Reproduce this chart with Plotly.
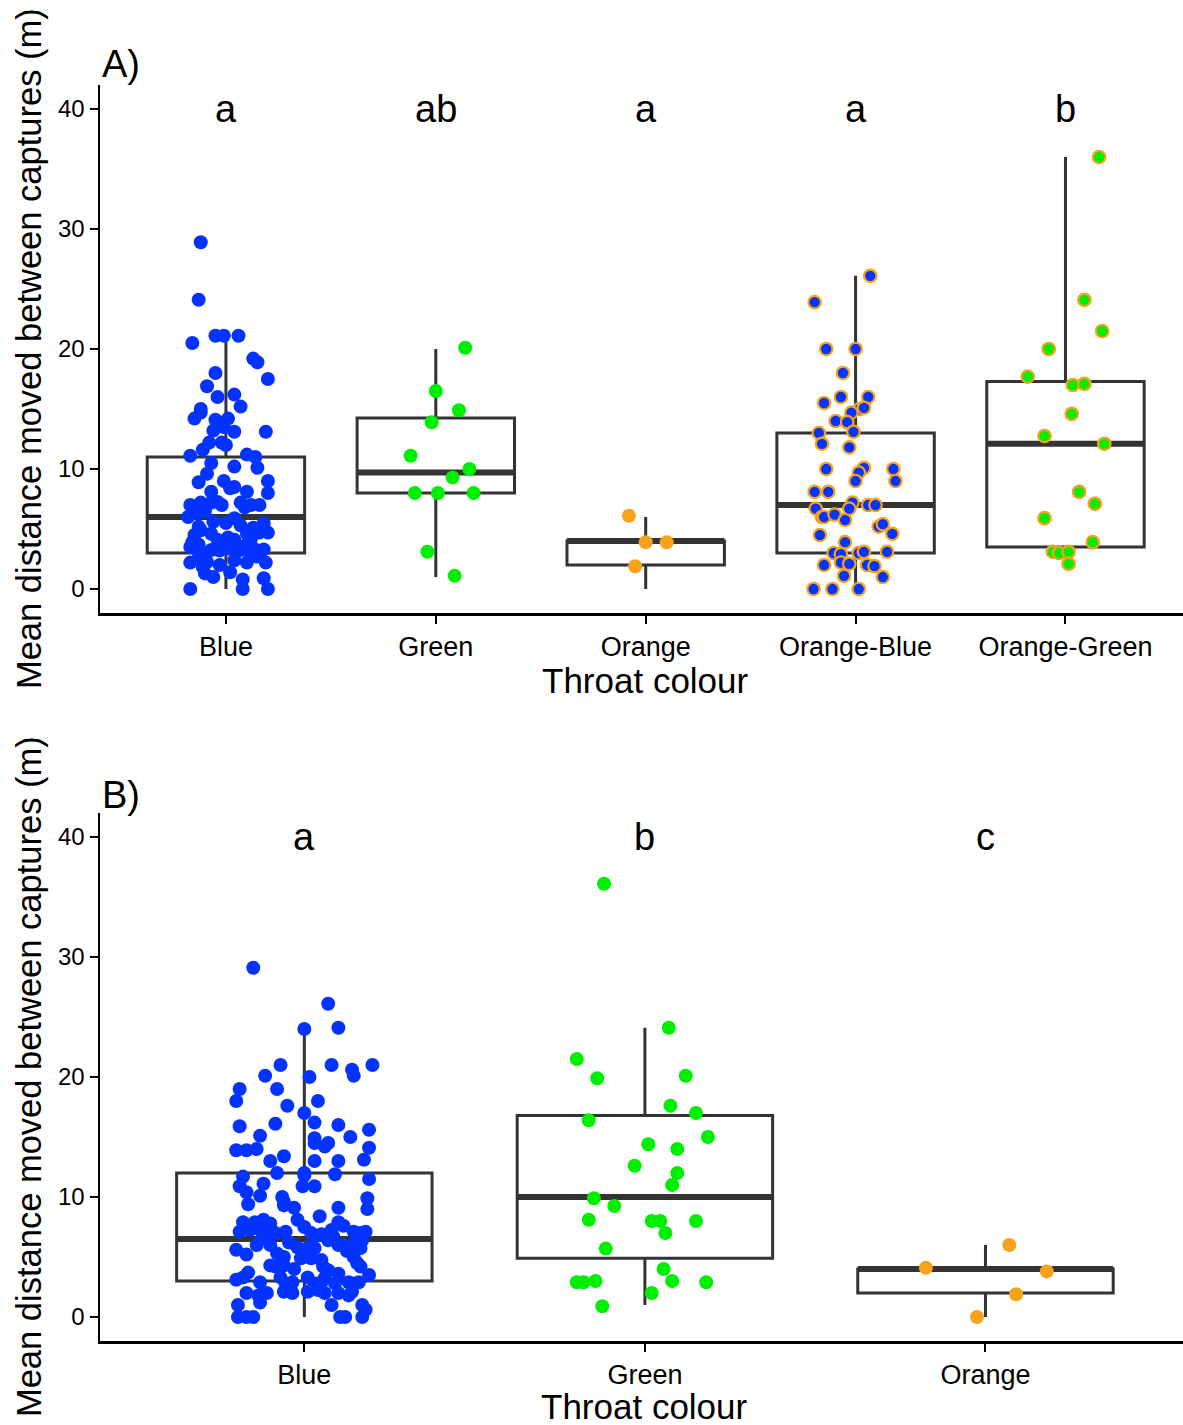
import plotly.graph_objects as go

# ---------------- data ----------------
CATS_A = ["Blue", "Green", "Orange", "Orange-Blue", "Orange-Green"]
CATS_B = ["Blue", "Green", "Orange"]
LETTERS_A = ["a", "ab", "a", "a", "b"]
LETTERS_B = ["a", "b", "c"]

# box statistics
A_Q1 = [3.0, 8.0, 2.0, 3.0, 3.5]
A_MED = [6.0, 9.7, 4.0, 7.0, 12.1]
A_Q3 = [11.0, 14.25, 4.0, 13.0, 17.3]
A_LO = [0.0, 1.0, 0.0, 0.0, 2.1]
A_HI = [21.1, 20.0, 6.0, 26.1, 36.0]

B_Q1 = [3.0, 4.9, 2.0]
B_MED = [6.5, 10.0, 4.0]
B_Q3 = [12.0, 16.8, 4.0]
B_LO = [0.0, 1.0, 0.0]
B_HI = [24.0, 24.1, 6.0]

# individual observations (y) and their jitter offsets (category units)
A_BLUE_Y = [28.9, 24.1, 20.5, 21.1, 21.1, 21.1, 19.2, 18.9, 17.5, 18.0,
            16.9, 16.0, 16.2, 15.2, 15.0, 14.2, 14.7, 14.1, 14.2, 13.2,
            13.5, 13.1, 13.1, 12.2, 12.2, 12.0, 11.6, 11.1, 11.2, 11.0,
            10.5, 10.2, 10.1, 8.9, 9.0, 9.0, 8.1, 8.4, 8.5, 8.1,
            8.0, 7.0, 7.2, 7.2, 7.0, 7.25, 7.2, 7.0, 7.0, 6.0,
            6.3, 5.6, 5.5, 5.3, 5.5, 4.7, 5.1, 4.9, 4.5, 5.2,
            4.1, 4.1, 4.25, 4.6, 4.3, 4.6, 4.7, 3.1, 3.25, 3.4,
            3.25, 3.4, 3.5, 3.7, 3.2, 3.6, 3.3, 2.2, 2.25, 2.2,
            2.2, 2.6, 2.0, 2.4, 2.7, 1.8, 1.0, 1.4, 0.9, 1.3,
            0.8, 0.0, 0.0, 0.0, 6.8, 6.5, 5.9, 9.6, 3.9, 2.9]
A_BLUE_J = [-0.12, -0.13, -0.16, -0.05, -0.01, 0.06, 0.13, 0.15, 0.20, -0.05,
            -0.09, -0.04, 0.04, 0.07, -0.12, -0.15, -0.12, -0.05, 0.01, -0.06,
            -0.01, 0.04, 0.19, -0.02, -0.08, 0.00, -0.11, -0.17, 0.10, 0.14,
            -0.07, 0.04, 0.15, -0.13, -0.01, 0.20, -0.07, 0.02, 0.04, 0.10,
            0.20, -0.17, -0.12, -0.07, -0.02, -0.04, 0.07, 0.12, 0.16, -0.18,
            -0.14, -0.06, 0.00, 0.07, 0.18, 0.20, 0.13, -0.12, -0.15, -0.13,
            -0.04, 0.04, 0.12, -0.07, 0.01, 0.10, 0.16, -0.12, -0.07, 0.01,
            0.07, 0.13, -0.17, -0.13, -0.03, 0.09, 0.18, -0.17, -0.09, 0.10,
            0.19, -0.13, -0.03, 0.04, 0.15, -0.11, -0.06, 0.02, 0.18, -0.10,
            0.08, -0.17, 0.08, 0.20, 0.09, -0.10, 0.04, -0.09, -0.16, 0.12]

A_GREEN_Y = [20.1, 16.5, 14.9, 13.9, 11.1, 10.0, 9.3, 8.0, 8.0, 8.0, 3.1, 1.1]
A_GREEN_J = [0.14, 0.00, 0.11, -0.02, -0.12, 0.16, 0.08, -0.10, 0.01, 0.18, -0.04, 0.09]

A_ORANGE_Y = [6.1, 3.9, 3.9, 1.9]
A_ORANGE_J = [-0.08, 0.00, 0.10, -0.05]

A_OB_Y = [26.1, 23.9, 20.0, 20.0, 18.0, 16.0, 15.5, 16.0, 15.0, 15.1,
          14.7, 14.0, 13.9, 13.0, 13.1, 12.1, 11.8, 10.0, 10.1, 9.7,
          9.0, 10.0, 9.0, 8.1, 8.1, 6.7, 6.0, 6.0, 6.2, 5.75,
          7.2, 6.7, 7.0, 7.0, 5.2, 5.4, 4.6, 4.5, 3.9, 3.0,
          2.9, 3.0, 3.1, 3.1, 2.0, 2.2, 2.1, 2.0, 1.9, 1.1,
          1.0, 0.0, 0.0, 0.0]
A_OB_J = [0.07, -0.195, -0.14, 0.00, -0.06, -0.07, -0.15, 0.06, 0.02, 0.04,
          -0.02, -0.095, -0.04, -0.175, -0.01, -0.16, -0.03, -0.14, 0.04, 0.015,
          0.00, 0.18, 0.19, -0.195, -0.13, -0.19, -0.16, -0.15, -0.10, -0.05,
          -0.015, -0.03, 0.06, 0.095, 0.11, 0.13, 0.175, -0.17, -0.05, -0.105,
          -0.07, 0.015, 0.04, 0.15, -0.15, -0.07, -0.03, 0.055, 0.09, -0.055,
          0.13, -0.20, -0.11, 0.015]

A_OG_Y = [36.0, 24.1, 21.5, 20.0, 17.7, 17.0, 17.1, 14.6, 12.75, 12.1,
          8.1, 7.1, 5.9, 3.9, 3.1, 3.0, 3.1, 2.1]
A_OG_J = [0.16, 0.09, 0.175, -0.08, -0.18, 0.035, 0.09, 0.03, -0.10, 0.185,
          0.065, 0.14, -0.10, 0.13, -0.06, -0.03, 0.015, 0.015]

B_BLUE_Y = [29.1, 26.1, 24.0, 24.1, 21.0, 21.0, 20.6, 20.1, 21.0, 20.1,
            20.0, 19.0, 18.0, 19.0, 17.6, 18.0, 17.0, 15.9, 16.1, 16.2,
            16.0, 15.6, 15.1, 15.0, 14.9, 14.5, 14.2, 14.5, 13.9, 13.9,
            14.0, 14.1, 13.1, 13.4, 13.0, 13.0, 13.0, 12.0, 12.0, 11.8,
            11.9, 11.5, 11.7, 10.9, 10.4, 11.1, 10.9, 10.9, 10.1, 9.4,
            10.0, 9.3, 9.1, 9.9, 9.0, 9.1, 8.4, 7.9, 9.6, 7.9,
            7.9, 8.1, 7.8, 7.1, 7.25, 7.25, 7.0, 7.0, 7.1, 8.1,
            7.5, 7.0, 6.7, 7.25, 6.7, 7.1, 7.0, 7.1, 6.4, 5.6,
            5.2, 6.0, 6.0, 5.3, 5.0, 5.8, 5.75, 5.75, 6.4, 6.0,
            6.0, 6.0, 5.75, 4.9, 4.9, 4.75, 5.0, 4.5, 4.3, 4.2,
            4.3, 4.2, 3.9, 4.2, 3.5, 3.1, 3.3, 3.7, 2.9, 3.3,
            2.8, 2.9, 3.3, 2.8, 2.9, 3.25, 2.8, 2.9, 2.8, 2.9,
            2.0, 1.8, 2.0, 2.1, 2.0, 2.1, 2.25, 2.0, 2.0, 1.8,
            2.1, 1.0, 1.2, 1.0, 1.0, 0.6, 0.0, 0.0, 0.0, 0.0,
            0.0, 0.0, 6.2, 5.4, 6.9, 7.6, 4.0, 3.6, 6.6, 5.5]
B_BLUE_J = [-0.15, 0.07, 0.00, 0.10, -0.07, 0.08, 0.14, 0.145, 0.20, -0.115,
            0.015, -0.19, -0.20, -0.08, -0.05, 0.04, 0.00, -0.19, -0.085, 0.03,
            0.10, 0.19, -0.13, 0.135, 0.03, 0.03, 0.06, 0.07, -0.20, -0.17,
            -0.14, 0.19, 0.175, -0.06, -0.10, 0.03, 0.10, -0.08, 0.00, 0.00,
            0.09, 0.19, -0.18, -0.19, -0.17, -0.12, -0.005, 0.03, -0.13, -0.165,
            -0.065, -0.06, -0.03, 0.185, 0.185, 0.10, 0.045, 0.10, -0.06, -0.18,
            -0.145, -0.12, -0.10, -0.19, -0.16, -0.13, -0.11, -0.085, -0.055, -0.02,
            0.00, 0.02, 0.03, 0.08, 0.085, 0.145, 0.165, 0.18, 0.17, -0.20,
            -0.17, -0.14, -0.10, -0.08, -0.06, -0.02, 0.01, 0.03, 0.07, 0.10,
            0.115, 0.145, 0.165, -0.01, 0.02, 0.05, 0.145, 0.155, -0.10, -0.085,
            -0.06, 0.055, 0.07, 0.165, 0.19, -0.20, -0.18, -0.165, -0.13, -0.07,
            -0.055, -0.035, 0.01, 0.03, 0.05, 0.06, 0.09, 0.13, 0.145, 0.16,
            -0.17, -0.135, -0.11, -0.06, -0.035, 0.01, 0.04, 0.06, 0.10, 0.13,
            0.14, -0.195, -0.13, 0.08, 0.17, 0.18, -0.195, -0.17, -0.15, 0.105,
            0.12, 0.17, -0.045, 0.005, 0.05, 0.115, -0.03, 0.10, -0.12, 0.125]

B_GREEN_Y = [36.1, 24.1, 21.5, 19.9, 20.1, 17.6, 17.0, 16.4, 15.0, 14.4,
             14.0, 12.6, 12.0, 11.0, 9.9, 9.25, 8.1, 8.0, 8.0, 8.0,
             7.0, 5.7, 4.0, 2.9, 2.9, 3.0, 3.0, 2.9, 2.0, 0.9]
B_GREEN_J = [-0.12, 0.07, -0.20, -0.14, 0.12, 0.075, 0.15, -0.165, 0.185, 0.01,
             0.095, -0.03, 0.095, 0.08, -0.15, -0.09, -0.165, 0.02, 0.045, 0.15,
             0.06, -0.115, 0.055, -0.20, -0.18, -0.145, 0.08, 0.18, 0.02, -0.125]

B_ORANGE_Y = [6.0, 4.1, 3.8, 1.9, 0.0]
B_ORANGE_J = [0.07, -0.175, 0.18, 0.09, -0.025]

# ---------------- styling ----------------
BLUE = "#0433FF"
GREEN = "#00EE00"
ORANGE = "#F7A21B"
BOXLINE = "#333333"
FONT = "Liberation Sans, Arial, Helvetica, sans-serif"
BOX_W = 0.75

fig = go.Figure()


def add_boxes(q1, med, q3, lo, hi, xa, ya):
    for i in range(len(q1)):
        pos = i + 1
        fig.add_trace(go.Box(
            x=[pos], q1=[q1[i]], median=[med[i]], q3=[q3[i]],
            lowerfence=[lo[i]], upperfence=[hi[i]],
            width=BOX_W, whiskerwidth=0, boxpoints=False,
            fillcolor="white", line=dict(color=BOXLINE, width=3),
            xaxis=xa, yaxis=ya, showlegend=False, hoverinfo="skip"))
        fig.add_trace(go.Scatter(
            x=[pos - BOX_W / 2, pos + BOX_W / 2], y=[med[i], med[i]],
            mode="lines", line=dict(color=BOXLINE, width=6),
            xaxis=xa, yaxis=ya, showlegend=False, hoverinfo="skip"))


def add_points(pos, ys, js, fill, edge, xa, ya):
    xs = [pos + j for j in js]
    if edge is None:
        marker = dict(color=fill, size=14, line=dict(width=0))
    else:
        marker = dict(color=fill, size=12.5, line=dict(color=edge, width=2.2))
    fig.add_trace(go.Scatter(x=xs, y=ys, mode="markers", marker=marker,
                             xaxis=xa, yaxis=ya, showlegend=False,
                             hoverinfo="skip"))


add_boxes(A_Q1, A_MED, A_Q3, A_LO, A_HI, "x", "y")
add_points(1, A_BLUE_Y, A_BLUE_J, BLUE, None, "x", "y")
add_points(2, A_GREEN_Y, A_GREEN_J, GREEN, None, "x", "y")
add_points(3, A_ORANGE_Y, A_ORANGE_J, ORANGE, None, "x", "y")
add_points(4, A_OB_Y, A_OB_J, BLUE, ORANGE, "x", "y")
add_points(5, A_OG_Y, A_OG_J, GREEN, ORANGE, "x", "y")

add_boxes(B_Q1, B_MED, B_Q3, B_LO, B_HI, "x2", "y2")
add_points(1, B_BLUE_Y, B_BLUE_J, BLUE, None, "x2", "y2")
add_points(2, B_GREEN_Y, B_GREEN_J, GREEN, None, "x2", "y2")
add_points(3, B_ORANGE_Y, B_ORANGE_J, ORANGE, None, "x2", "y2")

axis_common = dict(
    showline=True, linecolor="black", linewidth=2.5,
    ticks="outside", ticklen=8, tickwidth=2, tickcolor="black",
    showgrid=False, zeroline=False, fixedrange=True,
)
xtick_font = dict(family=FONT, size=27, color="black")
ytick_font = dict(family=FONT, size=24, color="black")

TOP_A, BOT_A = 1.0, 0.5796
TOP_B, BOT_B = 0.4204, 0.0

fig.update_layout(
    width=1183, height=1425,
    margin=dict(l=100, r=0, t=85, b=84),
    paper_bgcolor="white", plot_bgcolor="white",
    font=dict(family=FONT, color="black"),
    boxmode="overlay",
    xaxis=dict(domain=[0, 1], anchor="y", range=[0.4, 5.56],
               tickmode="array", tickvals=list(range(1, len(CATS_A) + 1)),
               ticktext=CATS_A, tickfont=xtick_font, **axis_common),
    yaxis=dict(domain=[BOT_A, TOP_A], anchor="x", range=[-2, 42],
               tickmode="array", tickvals=[0, 10, 20, 30, 40],
               tickfont=ytick_font, **axis_common),
    xaxis2=dict(domain=[0, 1], anchor="y2", range=[0.4, 3.58],
                tickmode="array", tickvals=list(range(1, len(CATS_B) + 1)),
                ticktext=CATS_B, tickfont=xtick_font, **axis_common),
    yaxis2=dict(domain=[BOT_B, TOP_B], anchor="x2", range=[-2, 42],
                tickmode="array", tickvals=[0, 10, 20, 30, 40],
                tickfont=ytick_font, **axis_common),
)

ann = []
letter_font = dict(family=FONT, size=38, color="black")
for i, t in enumerate(LETTERS_A):
    ann.append(dict(x=i + 1, y=40, xref="x", yref="y", text=t, showarrow=False,
                    font=letter_font, xanchor="center", yanchor="middle"))
for i, t in enumerate(LETTERS_B):
    ann.append(dict(x=i + 1, y=40, xref="x2", yref="y2", text=t, showarrow=False,
                    font=letter_font, xanchor="center", yanchor="middle"))

title_font = dict(family=FONT, size=35, color="black")
ytitle_font = dict(family=FONT, size=34.5, color="black")
panel_font = dict(family=FONT, size=38, color="black")
ann += [
    dict(x=0, y=1.0165, xref="paper", yref="paper", text="A)", showarrow=False,
         font=panel_font, xanchor="left", yanchor="middle"),
    dict(x=0, y=0.4347, xref="paper", yref="paper", text="B)", showarrow=False,
         font=panel_font, xanchor="left", yanchor="middle"),
    dict(x=3, y=0.5262, xref="x", yref="paper", text="Throat colour",
         showarrow=False, font=title_font, xanchor="center", yanchor="middle"),
    dict(x=2, y=-0.0525, xref="x2", yref="paper", text="Throat colour",
         showarrow=False, font=title_font, xanchor="center", yanchor="middle"),
    dict(x=-0.0655, y=0.7898, xref="paper", yref="paper",
         text="Mean distance moved between captures (m)", textangle=-90,
         showarrow=False, font=ytitle_font, xanchor="center", yanchor="middle"),
    dict(x=-0.0655, y=0.2102, xref="paper", yref="paper",
         text="Mean distance moved between captures (m)", textangle=-90,
         showarrow=False, font=ytitle_font, xanchor="center", yanchor="middle"),
]
fig.update_layout(annotations=ann)

fig.write_html(
    "out.html",
    config={"displayModeBar": False, "staticPlot": True},
    post_script="document.body.style.margin='0';"
                "document.body.style.overflow='hidden';",
)
